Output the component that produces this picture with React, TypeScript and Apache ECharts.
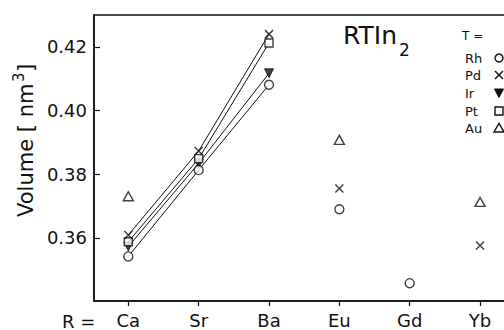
import React, { useEffect, useRef } from "react";
import * as echarts from "echarts";

const categories = ["Ca", "Sr", "Ba", "Eu", "Gd", "Yb"];
const rh = [0.3542, 0.3813, 0.4081, 0.369, 0.3458, null];
const pd = [0.3609, 0.3873, 0.424, 0.3755, null, 0.3576];
const ir = [0.3573, 0.3834, 0.4117, null, null, null];
const pt = [0.3588, 0.3849, 0.4212, null, null, null];
const au = [0.3731, null, null, 0.3908, null, 0.3713];
const yTicks = [0.36, 0.38, 0.4, 0.42];
const legendNames = ["Rh", "Pd", "Ir", "Pt", "Au"];

const FONT = "DejaVu Sans";
const INK = "#111";

const toPts = (arr: (number | null)[]) =>
  arr.map((v, i) => (v == null ? null : [i, v])).filter((p) => p != null);

const CROSS = "path://M0,0L10,10M0,10L10,0";

export default function App() {
  const ref = useRef<HTMLDivElement>(null);
  useEffect(() => {
    if (!ref.current) return;
    const chart = echarts.init(ref.current, null, { renderer: "svg" });
    const lineSeries = [rh, pd, ir, pt].map((arr, k) => ({
      type: "line",
      name: legendNames[k] + "-line",
      data: toPts(arr.slice(0, 3)),
      showSymbol: false,
      symbol: "none",
      lineStyle: { color: INK, width: 1 },
      z: 2,
      silent: true,
    }));
    const base = { type: "scatter", z: 5, silent: true };
    const scatterSeries = [
      { ...base, name: "Ir", data: toPts(ir), symbol: "triangle", symbolRotate: 180, symbolSize: [9, 9], itemStyle: { color: INK, borderColor: INK, borderWidth: 1 } },
      { ...base, name: "Rh", data: toPts(rh), symbol: "circle", symbolSize: 9, itemStyle: { color: "#fff", borderColor: INK, borderWidth: 1.4 } },
      { ...base, name: "Pt", data: toPts(pt), symbol: "rect", symbolSize: 8, itemStyle: { color: "#fff", borderColor: INK, borderWidth: 1.4 } },
      { ...base, name: "Pd", data: toPts(pd), symbol: CROSS, symbolSize: 8, itemStyle: { color: "none", borderColor: INK, borderWidth: 1.5 } },
      { ...base, name: "Au", data: toPts(au), symbol: "triangle", symbolSize: [10, 9], itemStyle: { color: "#fff", borderColor: INK, borderWidth: 1.4 } },
    ];

    const legY = [58, 75, 93, 111, 128];
    const symX = 499;
    const sStyle = { stroke: INK, lineWidth: 1.4, fill: "#fff" };
    const legendGraphics: any[] = [
      { type: "text", x: 462, y: 36, style: { text: "T =", font: `12px "${FONT}"`, fill: INK, verticalAlign: "middle" } },
      ...legendNames.map((n, i) => ({
        type: "text",
        x: 465,
        y: legY[i],
        style: { text: n, font: `13px "${FONT}"`, fill: INK, verticalAlign: "middle", align: "left" },
      })),
      { type: "circle", shape: { cx: symX, cy: legY[0], r: 4 }, style: sStyle },
      { type: "line", shape: { x1: symX - 4, y1: legY[1] - 4, x2: symX + 4, y2: legY[1] + 4 }, style: { stroke: INK, lineWidth: 1.5 } },
      { type: "line", shape: { x1: symX - 4, y1: legY[1] + 4, x2: symX + 4, y2: legY[1] - 4 }, style: { stroke: INK, lineWidth: 1.5 } },
      { type: "polygon", shape: { points: [[symX - 4.5, legY[2] - 4], [symX + 4.5, legY[2] - 4], [symX, legY[2] + 4.5]] }, style: { fill: INK, stroke: INK, lineWidth: 1 } },
      { type: "rect", shape: { x: symX - 4, y: legY[3] - 4, width: 8, height: 8 }, style: sStyle },
      { type: "polygon", shape: { points: [[symX - 5, legY[4] + 4], [symX + 5, legY[4] + 4], [symX, legY[4] - 4.5]] }, style: sStyle },
    ];

    chart.setOption({
      animation: false,
      backgroundColor: "#fff",
      grid: { left: 94, top: 15, right: 6, bottom: 29, show: true, borderColor: INK, borderWidth: 1.5 },
      xAxis: {
        type: "value",
        min: -0.488,
        max: 5.767,
        splitLine: { show: false },
        axisLine: { show: true, onZero: false, lineStyle: { color: INK, width: 1.5 } },
        axisTick: { show: true, inside: false, length: 5, customValues: [0, 1, 2, 3, 4, 5], lineStyle: { color: INK, width: 1.2 } },
        axisLabel: {
          customValues: [0, 1, 2, 3, 4, 5],
          formatter: (v: number) => categories[Math.round(v)] ?? "",
          fontFamily: FONT,
          fontSize: 18,
          color: INK,
          margin: 10,
        },
      },
      yAxis: {
        type: "value",
        min: 0.3402,
        max: 0.43,
        splitLine: { show: false },
        axisLine: { show: true, onZero: false, lineStyle: { color: INK, width: 1.5 } },
        axisTick: { show: true, inside: true, length: 6, customValues: yTicks, lineStyle: { color: INK, width: 1.2 } },
        axisLabel: {
          customValues: yTicks,
          formatter: (v: number) => v.toFixed(2),
          fontFamily: FONT,
          fontSize: 18,
          color: INK,
          margin: 7,
        },
      },
      series: [...lineSeries, ...scatterSeries],
      graphic: [
        { type: "text", x: 62, y: 321, style: { text: "R =", font: `18px "${FONT}"`, fill: INK, verticalAlign: "middle" } },
        { type: "text", x: 343, y: 35, style: { text: "RTIn", font: `25px "${FONT}"`, fill: INK, verticalAlign: "middle" } },
        { type: "text", x: 399, y: 50, style: { text: "2", font: `17px "${FONT}"`, fill: INK, verticalAlign: "middle" } },
        {
          type: "group",
          x: 26,
          y: 217,
          rotation: Math.PI / 2,
          children: [
            { type: "text", x: 0, y: 0, style: { text: "Volume [ nm", font: `21px "${FONT}"`, fill: INK, verticalAlign: "middle" } },
            { type: "text", x: 135, y: -7, style: { text: "3", font: `15px "${FONT}"`, fill: INK, verticalAlign: "middle" } },
            { type: "text", x: 145, y: 0, style: { text: "]", font: `21px "${FONT}"`, fill: INK, verticalAlign: "middle" } },
          ],
        },
        ...legendGraphics,
      ],
    });
    return () => chart.dispose();
  }, []);
  return (
    <div style={{ position: "absolute", left: 0, top: 0, width: 504, height: 330, overflow: "hidden", background: "#fff" }}>
      <div ref={ref} style={{ position: "absolute", left: 0, top: 0, width: 540, height: 330 }} />
    </div>
  );
}
